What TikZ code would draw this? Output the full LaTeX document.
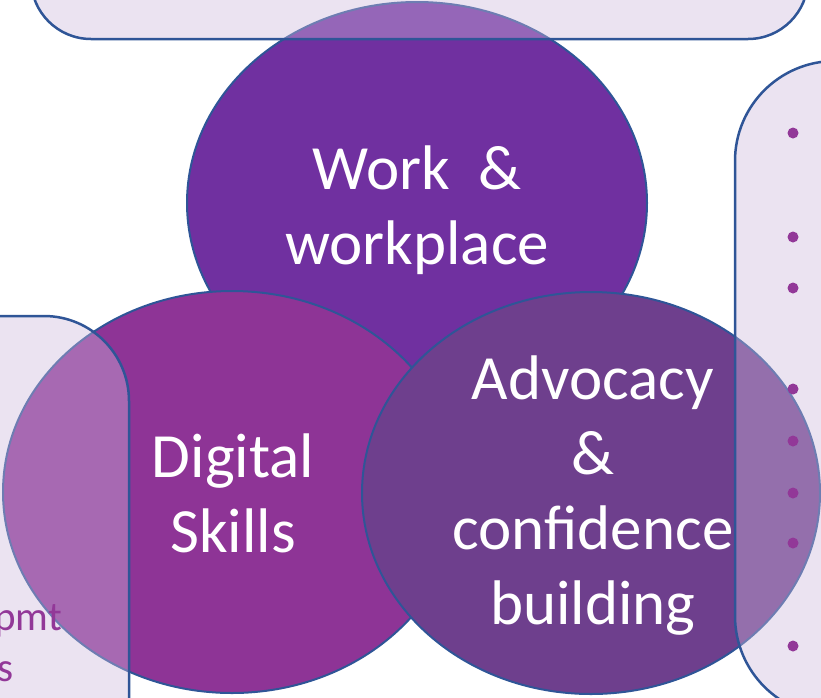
\documentclass[tikz,border=0pt]{standalone}
\usepackage{fontspec}
\setmainfont{Carlito}
\definecolor{workpurple}{HTML}{7030A0}
\definecolor{digitalpurple}{HTML}{8E3496}
\definecolor{advocacypurple}{HTML}{6E3F8D}
\definecolor{edgeblue}{HTML}{2F5597}
\definecolor{panelfill}{RGB}{205,185,220}
\definecolor{textpurple}{HTML}{923898}
\tikzset{
  venn/.style={draw=edgeblue, line width=2pt},
  panel/.style={draw=edgeblue, line width=2.5pt, fill=panelfill, fill opacity=0.4, rounded corners=#1},
  circletext/.style={text=white, align=center, font=\fontsize{63}{75}\selectfont},
  paneltext/.style={text=textpurple, inner sep=0pt, font=\fontsize{41}{51}\selectfont}
}
\begin{document}
\begin{tikzpicture}[x=1pt, y=-1pt]
\useasboundingbox (0,0) rectangle (821,697);
\clip (0,0) rectangle (821,697);

% the three circles
\draw[venn, fill=workpurple] (417,203) ellipse (230pt and 201pt);
\draw[venn, fill=digitalpurple] (232,492) ellipse (229pt and 201pt);
\draw[venn, fill=advocacypurple] (591,493) ellipse (229pt and 201pt);

\node[circletext] (work) at (417,210) {Work \ \&\\workplace};
\node[circletext] (digital) at (233,493) {Digital\\Skills};
\node[circletext] (advocacy) at (593,496) {Advocacy\\\&\\confidence\\building};

% side panels, cut by the page
\draw[panel=60pt] (31,-200) rectangle (808,39);
\draw[panel=85pt] (-200,316) rectangle (129,900);
\draw[panel=100pt] (735,61) rectangle (1100,716);

\node[paneltext, anchor=base east] (devpmt) at (62,630) {pmt};
\node[paneltext, anchor=base east] (skills) at (14,681) {s};

\foreach \y in {133,237,288,389,441,493,543,646}
  \fill[textpurple] (793,\y) circle (5.5pt);
\end{tikzpicture}
\end{document}
